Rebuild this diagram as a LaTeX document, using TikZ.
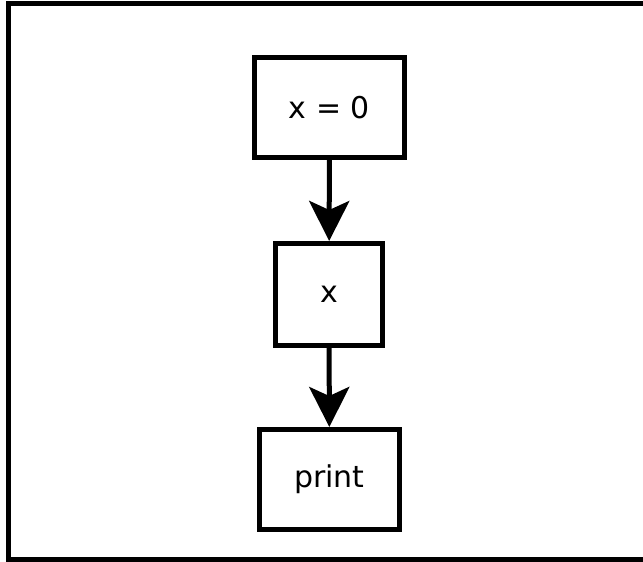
\documentclass[tikz,border=0pt]{standalone}
\usepackage{fontspec}
\setmainfont{DejaVu Sans}
\usetikzlibrary{arrows.meta,positioning}

\begin{document}
\begin{tikzpicture}[x=1pt, y=-1pt]
    \def\lw{5pt}
    \useasboundingbox (0,0) rectangle (643,562);
    % frame
    \draw[line width=5.5pt] (660,3.5) -- (8.5,3.5) -- (8.5,560) -- (660,560);
    \tikzset{stepbox/.style={rectangle, draw, line width=\lw, font=\fontsize{30}{36}\selectfont, inner sep=0pt}}
    \node(init) [stepbox, minimum width = 150pt, minimum height = 100pt] at (329.5,107.5) {x = 0};
    \node(var) [stepbox, minimum width = 107pt, minimum height = 102pt] at (329,294.5) {x};
    \node(out) [stepbox, minimum width = 140pt, minimum height = 100pt] at (329.5,479.5) {print};

    \draw[line width=\lw, -{Stealth[length=40pt, width=40pt, inset=9pt]}]
    (init) edge (var)
    (var) edge (out);
\end{tikzpicture}
\end{document}
